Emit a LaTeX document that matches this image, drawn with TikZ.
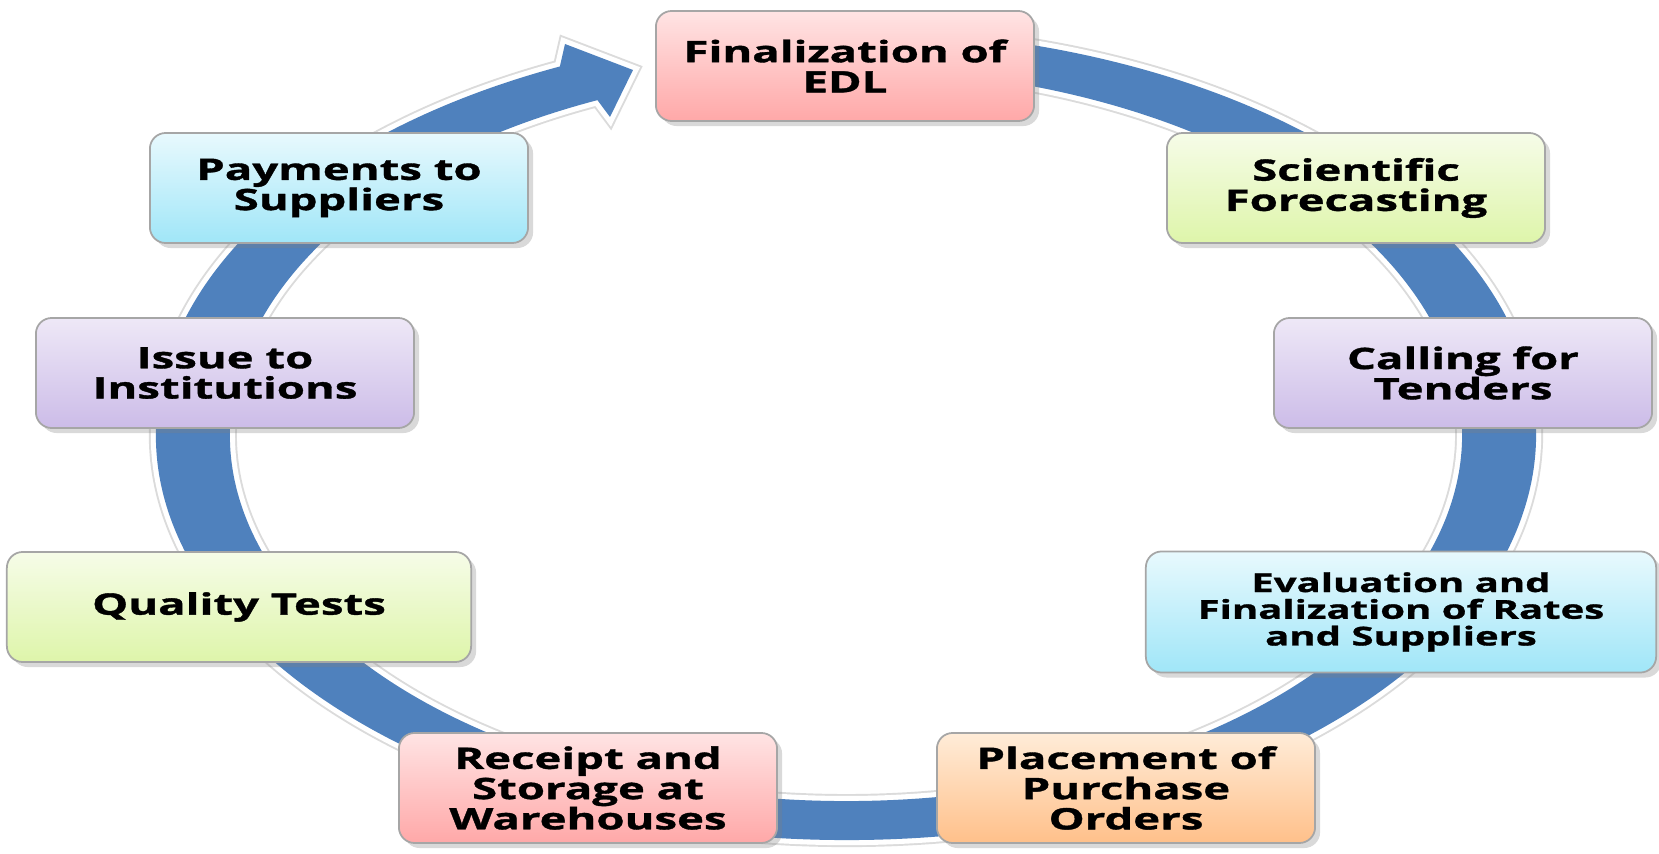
\documentclass[tikz,border=0pt]{standalone}
\usepackage{fontspec}
\newfontfamily\boxfont{Open Sans}[FakeStretch=1.54,FakeBold=1.2]
\usetikzlibrary{calc,shadows}

\definecolor{ringblue}{RGB}{79,129,189}
\definecolor{pinktop}{RGB}{255,228,228}
\definecolor{pinkbot}{RGB}{255,168,168}
\definecolor{greentop}{RGB}{246,252,232}
\definecolor{greenbot}{RGB}{222,245,170}
\definecolor{purpletop}{RGB}{238,232,247}
\definecolor{purplebot}{RGB}{204,188,232}
\definecolor{cyantop}{RGB}{232,249,253}
\definecolor{cyanbot}{RGB}{160,230,248}
\definecolor{orangetop}{RGB}{255,236,216}
\definecolor{orangebot}{RGB}{255,192,138}

\begin{document}
\begin{tikzpicture}
  [x=0.01cm,y=0.01cm
  ,stage/.style={draw=black!35,line width=0.5pt,rounded corners=4.5pt
    ,minimum width=3.78cm,minimum height=1.1cm,align=center
    ,font=\boxfont\bfseries\fontsize{8.4}{8.6}\selectfont
    ,drop shadow={shadow xshift=0.05cm,shadow yshift=-0.05cm,opacity=0.3}}
  ,pinkbox/.style={top color=pinktop,bottom color=pinkbot}
  ,greenbox/.style={top color=greentop,bottom color=greenbot}
  ,purplebox/.style={top color=purpletop,bottom color=purplebot}
  ,cyanbox/.style={top color=cyantop,bottom color=cyanbot}
  ,orangebox/.style={top color=orangetop,bottom color=orangebot}
  ,ring/.style={fill=ringblue,line join=round
    ,preaction={draw=black!14,line width=4pt}
    ,preaction={draw=white,line width=2.9pt}}
  ]

  % Stage box
  %
  % #1 - name
  % #2 - colour style
  % #3 - position
  % #4 - text
  \newcommand{\stagebox}[4]{
    \node[stage,#2] (#1) at (#3) {#4};
  }

  \useasboundingbox (0,0) rectangle (1659,854);

  % ring with arrow head
  \path[ring] (846,419) ++(80:690 and 405)
    arc[start angle=80,end angle=-245.5,x radius=690,y radius=405]
    -- (565,810) -- (633,784) -- (610,737)
    -- ($(846,419)+(-246.2:616 and 366)$)
    arc[start angle=-246.2,end angle=80,x radius=616,y radius=366]
    -- cycle;

  % stages
  \stagebox{edl}{pinkbox}{845,788}{Finalization of\\EDL}
  \stagebox{forecast}{greenbox}{1356,666}{Scientific\\Forecasting}
  \stagebox{tenders}{purplebox}{1463,481}{Calling for\\Tenders}
  \stagebox{rates}{cyanbox,minimum width=5.1cm,minimum height=1.21cm
    ,font=\boxfont\bfseries\fontsize{7.4}{7.6}\selectfont}{1401,242}
    {Evaluation and\\Finalization of Rates\\and Suppliers}
  \stagebox{orders}{orangebox}{1126,66}{Placement of\\Purchase\\Orders}
  \stagebox{storage}{pinkbox}{588,66}{Receipt and\\Storage at\\Warehouses}
  \stagebox{quality}{greenbox,minimum width=4.64cm}{239,247}{Quality Tests}
  \stagebox{issue}{purplebox}{225,481}{Issue to\\Institutions}
  \stagebox{payments}{cyanbox}{339,666}{Payments to\\Suppliers}

\end{tikzpicture}
\end{document}
